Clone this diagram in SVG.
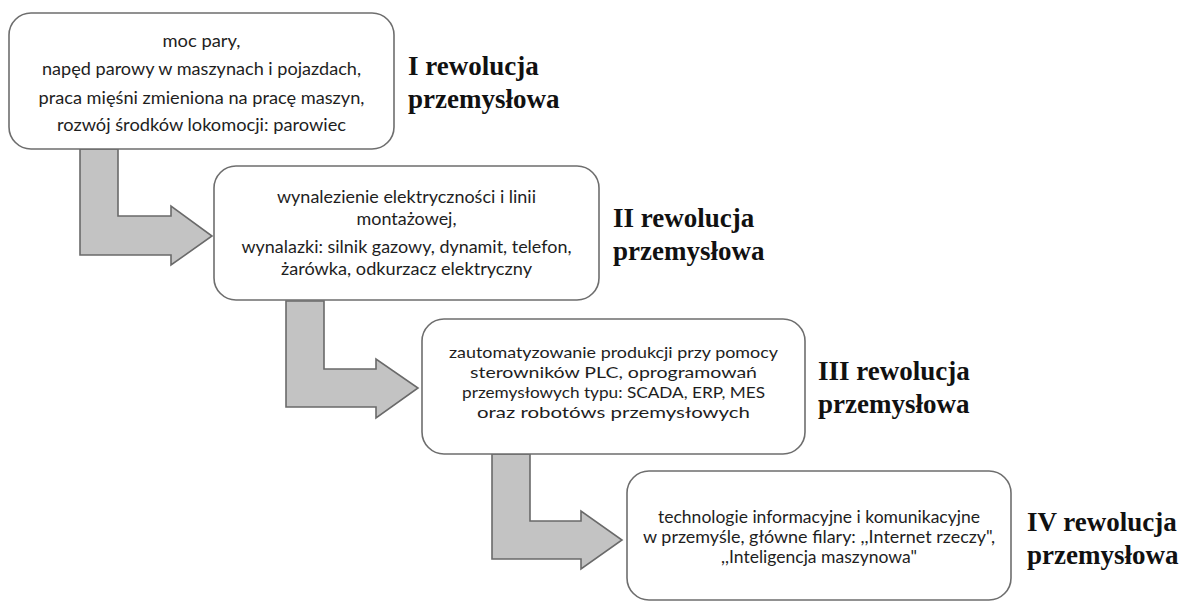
<svg xmlns="http://www.w3.org/2000/svg" width="1179" height="603" viewBox="0 0 1179 603">
<style>
.box{fill:#fff;stroke:#6e6e6e;stroke-width:1.6}
.arr{fill:#c3c3c3;stroke:#6a6a6a;stroke-width:1.6;stroke-linejoin:miter}
.t{font-family:Lato,"Liberation Sans",sans-serif;fill:#1e1e1e;text-anchor:middle}
.h{font-family:"Liberation Serif","Times New Roman",serif;font-weight:bold;font-size:27px;fill:#111}
</style>
<rect width="1179" height="603" fill="#fff"/>
<g id="connectors">
<polygon class="arr" points="80,149 118,149 118,216 171,216 171,206 212,236 171,265 171,255 80,255"/>
<polygon class="arr" points="286,301 324,301 324,369 376,369 376,359 418,388 376,418 376,407 286,407"/>
<polygon class="arr" points="492,454 530,454 530,521 581,521 581,511 622,540 581,569 581,559 492,559"/>
</g>
<g id="node1">
<rect class="box" x="9" y="13" width="385" height="136" rx="22"/>
<text class="t" font-size="17.5"><tspan x="201.5" y="47" textLength="78" lengthAdjust="spacingAndGlyphs">moc pary,</tspan><tspan x="201.5" y="75" textLength="319" lengthAdjust="spacingAndGlyphs">napęd parowy w maszynach i pojazdach,</tspan><tspan x="201.5" y="104" textLength="326" lengthAdjust="spacingAndGlyphs">praca mięśni zmieniona na pracę maszyn,</tspan><tspan x="201.5" y="131" textLength="289" lengthAdjust="spacingAndGlyphs">rozwój środków lokomocji: parowiec</tspan></text>
<text class="h"><tspan x="408" y="75">I rewolucja</tspan><tspan x="408" y="108">przemysłowa</tspan></text>
</g>
<g id="node2">
<rect class="box" x="214" y="166" width="385" height="134" rx="22"/>
<text class="t" font-size="16.5"><tspan x="406.5" y="203" textLength="259" lengthAdjust="spacingAndGlyphs">wynalezienie elektryczności i linii</tspan><tspan x="406.5" y="225" textLength="100" lengthAdjust="spacingAndGlyphs">montażowej,</tspan><tspan x="406.5" y="253" textLength="330" lengthAdjust="spacingAndGlyphs">wynalazki: silnik gazowy, dynamit, telefon,</tspan><tspan x="406.5" y="275" textLength="251" lengthAdjust="spacingAndGlyphs">żarówka, odkurzacz elektryczny</tspan></text>
<text class="h"><tspan x="613" y="227">II rewolucja</tspan><tspan x="613" y="260">przemysłowa</tspan></text>
</g>
<g id="node3">
<rect class="box" x="422" y="319" width="383" height="135" rx="22"/>
<text class="t" font-size="16"><tspan x="613.5" y="358" textLength="329" lengthAdjust="spacingAndGlyphs">zautomatyzowanie produkcji przy pomocy</tspan><tspan x="613.5" y="378" textLength="287" lengthAdjust="spacingAndGlyphs">sterowników PLC, oprogramowań</tspan><tspan x="613.5" y="398" textLength="303" lengthAdjust="spacingAndGlyphs">przemysłowych typu: SCADA, ERP, MES</tspan><tspan x="613.5" y="418" textLength="273" lengthAdjust="spacingAndGlyphs">oraz robotóws przemysłowych</tspan></text>
<text class="h"><tspan x="818" y="380">III rewolucja</tspan><tspan x="818" y="413">przemysłowa</tspan></text>
</g>
<g id="node4">
<rect class="box" x="627" y="471" width="384" height="129" rx="22"/>
<text class="t" font-size="16.5"><tspan x="819" y="523" textLength="322" lengthAdjust="spacingAndGlyphs">technologie informacyjne i komunikacyjne</tspan><tspan x="819" y="543" textLength="352" lengthAdjust="spacingAndGlyphs">w przemyśle, główne filary: ,,Internet rzeczy",</tspan><tspan x="819" y="563" textLength="196" lengthAdjust="spacingAndGlyphs">,,Inteligencja maszynowa"</tspan></text>
<text class="h"><tspan x="1027" y="531">IV rewolucja</tspan><tspan x="1027" y="564">przemysłowa</tspan></text>
</g>
</svg>
